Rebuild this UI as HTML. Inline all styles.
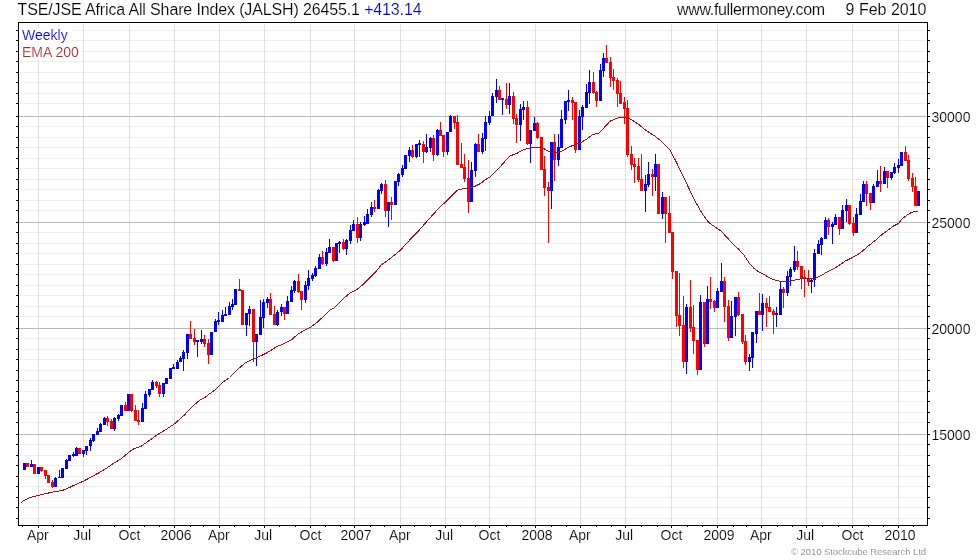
<!DOCTYPE html>
<html><head><meta charset="utf-8"><title>JALSH</title>
<style>
html,body{margin:0;padding:0;background:#fff;}
body{width:980px;height:560px;overflow:hidden;}
svg{display:block;will-change:transform;}
text{font-family:"Liberation Sans",sans-serif;stroke:#fff;stroke-width:0.16px;}
</style></head><body>
<svg width="980" height="560" viewBox="0 0 980 560">
<rect x="0" y="0" width="980" height="560" fill="#fff"/>
<g shape-rendering="crispEdges">
<rect x="20" y="30" width="906" height="1" fill="#efefef"/>
<rect x="20" y="40" width="906" height="1" fill="#efefef"/>
<rect x="20" y="51" width="906" height="1" fill="#efefef"/>
<rect x="20" y="61" width="906" height="1" fill="#efefef"/>
<rect x="20" y="72" width="906" height="1" fill="#efefef"/>
<rect x="20" y="82" width="906" height="1" fill="#efefef"/>
<rect x="20" y="93" width="906" height="1" fill="#efefef"/>
<rect x="20" y="103" width="906" height="1" fill="#efefef"/>
<rect x="20" y="126" width="906" height="1" fill="#efefef"/>
<rect x="20" y="137" width="906" height="1" fill="#efefef"/>
<rect x="20" y="147" width="906" height="1" fill="#efefef"/>
<rect x="20" y="158" width="906" height="1" fill="#efefef"/>
<rect x="20" y="168" width="906" height="1" fill="#efefef"/>
<rect x="20" y="179" width="906" height="1" fill="#efefef"/>
<rect x="20" y="189" width="906" height="1" fill="#efefef"/>
<rect x="20" y="200" width="906" height="1" fill="#efefef"/>
<rect x="20" y="210" width="906" height="1" fill="#efefef"/>
<rect x="20" y="232" width="906" height="1" fill="#efefef"/>
<rect x="20" y="243" width="906" height="1" fill="#efefef"/>
<rect x="20" y="253" width="906" height="1" fill="#efefef"/>
<rect x="20" y="264" width="906" height="1" fill="#efefef"/>
<rect x="20" y="274" width="906" height="1" fill="#efefef"/>
<rect x="20" y="285" width="906" height="1" fill="#efefef"/>
<rect x="20" y="295" width="906" height="1" fill="#efefef"/>
<rect x="20" y="306" width="906" height="1" fill="#efefef"/>
<rect x="20" y="316" width="906" height="1" fill="#efefef"/>
<rect x="20" y="338" width="906" height="1" fill="#efefef"/>
<rect x="20" y="349" width="906" height="1" fill="#efefef"/>
<rect x="20" y="359" width="906" height="1" fill="#efefef"/>
<rect x="20" y="370" width="906" height="1" fill="#efefef"/>
<rect x="20" y="380" width="906" height="1" fill="#efefef"/>
<rect x="20" y="391" width="906" height="1" fill="#efefef"/>
<rect x="20" y="401" width="906" height="1" fill="#efefef"/>
<rect x="20" y="412" width="906" height="1" fill="#efefef"/>
<rect x="20" y="422" width="906" height="1" fill="#efefef"/>
<rect x="20" y="444" width="906" height="1" fill="#efefef"/>
<rect x="20" y="455" width="906" height="1" fill="#efefef"/>
<rect x="20" y="465" width="906" height="1" fill="#efefef"/>
<rect x="20" y="476" width="906" height="1" fill="#efefef"/>
<rect x="20" y="486" width="906" height="1" fill="#efefef"/>
<rect x="20" y="497" width="906" height="1" fill="#efefef"/>
<rect x="20" y="507" width="906" height="1" fill="#efefef"/>
<rect x="20" y="518" width="906" height="1" fill="#efefef"/>
<rect x="38" y="24" width="1" height="500" fill="#dedede"/>
<rect x="83" y="24" width="1" height="500" fill="#dedede"/>
<rect x="129" y="24" width="1" height="500" fill="#dedede"/>
<rect x="174" y="24" width="1" height="500" fill="#dedede"/>
<rect x="219" y="24" width="1" height="500" fill="#dedede"/>
<rect x="264" y="24" width="1" height="500" fill="#dedede"/>
<rect x="310" y="24" width="1" height="500" fill="#dedede"/>
<rect x="354" y="24" width="1" height="500" fill="#dedede"/>
<rect x="400" y="24" width="1" height="500" fill="#dedede"/>
<rect x="445" y="24" width="1" height="500" fill="#dedede"/>
<rect x="489" y="24" width="1" height="500" fill="#dedede"/>
<rect x="535" y="24" width="1" height="500" fill="#dedede"/>
<rect x="580" y="24" width="1" height="500" fill="#dedede"/>
<rect x="625" y="24" width="1" height="500" fill="#dedede"/>
<rect x="671" y="24" width="1" height="500" fill="#dedede"/>
<rect x="717" y="24" width="1" height="500" fill="#dedede"/>
<rect x="761" y="24" width="1" height="500" fill="#dedede"/>
<rect x="806" y="24" width="1" height="500" fill="#dedede"/>
<rect x="852" y="24" width="1" height="500" fill="#dedede"/>
<rect x="898" y="24" width="1" height="500" fill="#dedede"/>
<rect x="19" y="116" width="908" height="1" fill="#b9b9b9"/>
<rect x="19" y="222" width="908" height="1" fill="#b9b9b9"/>
<rect x="19" y="328" width="908" height="1" fill="#b9b9b9"/>
<rect x="19" y="434" width="908" height="1" fill="#b9b9b9"/>
</g>
<rect x="20" y="28" width="51" height="16" fill="#fff"/>
<rect x="20" y="45" width="62" height="15" fill="#fff"/>
<g shape-rendering="crispEdges">
<rect x="23" y="463" width="3" height="7" fill="#0000ff"/>
<rect x="26" y="463" width="3" height="4" fill="#ff0000"/>
<rect x="31" y="460" width="1" height="7" fill="#0000ff"/><rect x="30" y="464" width="3" height="3" fill="#0000ff"/>
<rect x="33" y="464" width="3" height="10" fill="#ff0000"/>
<rect x="37" y="467" width="3" height="7" fill="#0000ff"/>
<rect x="41" y="467" width="1" height="5" fill="#ff0000"/><rect x="40" y="467" width="3" height="4" fill="#ff0000"/>
<rect x="45" y="470" width="1" height="9" fill="#ff0000"/><rect x="44" y="470" width="3" height="6" fill="#ff0000"/>
<rect x="47" y="475" width="3" height="8" fill="#ff0000"/>
<rect x="52" y="480" width="1" height="8" fill="#ff0000"/><rect x="51" y="482" width="3" height="5" fill="#ff0000"/>
<rect x="55" y="477" width="1" height="10" fill="#0000ff"/><rect x="54" y="478" width="3" height="9" fill="#0000ff"/>
<rect x="59" y="470" width="1" height="8" fill="#0000ff"/><rect x="58" y="477" width="3" height="1" fill="#0000ff"/>
<rect x="61" y="468" width="3" height="10" fill="#0000ff"/>
<rect x="66" y="459" width="1" height="10" fill="#0000ff"/><rect x="65" y="460" width="3" height="9" fill="#0000ff"/>
<rect x="68" y="455" width="3" height="6" fill="#0000ff"/>
<rect x="73" y="452" width="1" height="5" fill="#0000ff"/><rect x="72" y="454" width="3" height="2" fill="#0000ff"/>
<rect x="76" y="447" width="1" height="9" fill="#0000ff"/><rect x="75" y="448" width="3" height="8" fill="#0000ff"/>
<rect x="78" y="448" width="3" height="6" fill="#ff0000"/>
<rect x="83" y="450" width="1" height="7" fill="#0000ff"/><rect x="82" y="450" width="3" height="4" fill="#0000ff"/>
<rect x="86" y="446" width="1" height="9" fill="#0000ff"/><rect x="85" y="446" width="3" height="5" fill="#0000ff"/>
<rect x="90" y="438" width="1" height="13" fill="#0000ff"/><rect x="89" y="440" width="3" height="6" fill="#0000ff"/>
<rect x="93" y="434" width="1" height="8" fill="#0000ff"/><rect x="92" y="434" width="3" height="7" fill="#0000ff"/>
<rect x="97" y="428" width="1" height="7" fill="#0000ff"/><rect x="96" y="431" width="3" height="4" fill="#0000ff"/>
<rect x="100" y="423" width="1" height="9" fill="#0000ff"/><rect x="99" y="424" width="3" height="8" fill="#0000ff"/>
<rect x="104" y="417" width="1" height="8" fill="#0000ff"/><rect x="103" y="418" width="3" height="7" fill="#0000ff"/>
<rect x="107" y="416" width="1" height="10" fill="#ff0000"/><rect x="106" y="418" width="3" height="4" fill="#ff0000"/>
<rect x="111" y="419" width="1" height="10" fill="#ff0000"/><rect x="110" y="421" width="3" height="8" fill="#ff0000"/>
<rect x="114" y="417" width="1" height="14" fill="#0000ff"/><rect x="113" y="418" width="3" height="11" fill="#0000ff"/>
<rect x="118" y="414" width="1" height="7" fill="#0000ff"/><rect x="117" y="415" width="3" height="4" fill="#0000ff"/>
<rect x="120" y="405" width="3" height="11" fill="#0000ff"/>
<rect x="125" y="402" width="1" height="9" fill="#ff0000"/><rect x="124" y="405" width="3" height="6" fill="#ff0000"/>
<rect x="127" y="394" width="3" height="17" fill="#0000ff"/>
<rect x="131" y="394" width="1" height="18" fill="#ff0000"/><rect x="130" y="394" width="3" height="17" fill="#ff0000"/>
<rect x="135" y="405" width="1" height="16" fill="#ff0000"/><rect x="134" y="410" width="3" height="11" fill="#ff0000"/>
<rect x="138" y="410" width="1" height="15" fill="#ff0000"/><rect x="137" y="420" width="3" height="2" fill="#ff0000"/>
<rect x="142" y="403" width="1" height="19" fill="#0000ff"/><rect x="141" y="408" width="3" height="14" fill="#0000ff"/>
<rect x="145" y="391" width="1" height="18" fill="#0000ff"/><rect x="144" y="394" width="3" height="15" fill="#0000ff"/>
<rect x="149" y="389" width="1" height="8" fill="#0000ff"/><rect x="148" y="389" width="3" height="6" fill="#0000ff"/>
<rect x="152" y="380" width="1" height="10" fill="#0000ff"/><rect x="151" y="382" width="3" height="8" fill="#0000ff"/>
<rect x="156" y="381" width="1" height="7" fill="#ff0000"/><rect x="155" y="382" width="3" height="4" fill="#ff0000"/>
<rect x="159" y="382" width="1" height="15" fill="#ff0000"/><rect x="158" y="385" width="3" height="9" fill="#ff0000"/>
<rect x="163" y="383" width="1" height="14" fill="#0000ff"/><rect x="162" y="383" width="3" height="11" fill="#0000ff"/>
<rect x="165" y="378" width="3" height="6" fill="#0000ff"/>
<rect x="169" y="368" width="3" height="11" fill="#0000ff"/>
<rect x="173" y="364" width="1" height="5" fill="#0000ff"/><rect x="172" y="367" width="3" height="2" fill="#0000ff"/>
<rect x="177" y="360" width="1" height="9" fill="#0000ff"/><rect x="176" y="362" width="3" height="7" fill="#0000ff"/>
<rect x="180" y="356" width="1" height="6" fill="#0000ff"/><rect x="179" y="358" width="3" height="4" fill="#0000ff"/>
<rect x="183" y="350" width="1" height="21" fill="#0000ff"/><rect x="182" y="352" width="3" height="7" fill="#0000ff"/>
<rect x="187" y="334" width="1" height="25" fill="#0000ff"/><rect x="186" y="334" width="3" height="19" fill="#0000ff"/>
<rect x="190" y="321" width="1" height="18" fill="#ff0000"/><rect x="189" y="334" width="3" height="5" fill="#ff0000"/>
<rect x="194" y="329" width="1" height="16" fill="#ff0000"/><rect x="193" y="338" width="3" height="4" fill="#ff0000"/>
<rect x="197" y="340" width="1" height="17" fill="#0000ff"/><rect x="196" y="340" width="3" height="2" fill="#0000ff"/>
<rect x="201" y="330" width="1" height="14" fill="#0000ff"/><rect x="200" y="339" width="3" height="3" fill="#0000ff"/>
<rect x="204" y="335" width="1" height="12" fill="#ff0000"/><rect x="203" y="339" width="3" height="5" fill="#ff0000"/>
<rect x="208" y="339" width="1" height="25" fill="#ff0000"/><rect x="207" y="343" width="3" height="12" fill="#ff0000"/>
<rect x="210" y="332" width="3" height="23" fill="#0000ff"/>
<rect x="215" y="319" width="1" height="13" fill="#0000ff"/><rect x="214" y="321" width="3" height="11" fill="#0000ff"/>
<rect x="218" y="312" width="1" height="13" fill="#0000ff"/><rect x="217" y="320" width="3" height="2" fill="#0000ff"/>
<rect x="222" y="310" width="1" height="12" fill="#0000ff"/><rect x="221" y="315" width="3" height="7" fill="#0000ff"/>
<rect x="225" y="307" width="1" height="9" fill="#0000ff"/><rect x="224" y="314" width="3" height="2" fill="#0000ff"/>
<rect x="229" y="302" width="1" height="13" fill="#0000ff"/><rect x="228" y="306" width="3" height="9" fill="#0000ff"/>
<rect x="232" y="299" width="1" height="11" fill="#0000ff"/><rect x="231" y="304" width="3" height="3" fill="#0000ff"/>
<rect x="234" y="289" width="3" height="16" fill="#0000ff"/>
<rect x="239" y="279" width="1" height="12" fill="#ff0000"/><rect x="238" y="289" width="3" height="2" fill="#ff0000"/>
<rect x="241" y="290" width="3" height="35" fill="#ff0000"/>
<rect x="246" y="313" width="1" height="23" fill="#0000ff"/><rect x="245" y="313" width="3" height="12" fill="#0000ff"/>
<rect x="249" y="306" width="1" height="20" fill="#0000ff"/><rect x="248" y="309" width="3" height="5" fill="#0000ff"/>
<rect x="253" y="309" width="1" height="53" fill="#ff0000"/><rect x="252" y="309" width="3" height="33" fill="#ff0000"/>
<rect x="256" y="334" width="1" height="32" fill="#0000ff"/><rect x="255" y="334" width="3" height="8" fill="#0000ff"/>
<rect x="260" y="300" width="1" height="35" fill="#0000ff"/><rect x="259" y="317" width="3" height="18" fill="#0000ff"/>
<rect x="263" y="299" width="1" height="29" fill="#0000ff"/><rect x="262" y="302" width="3" height="16" fill="#0000ff"/>
<rect x="267" y="297" width="1" height="11" fill="#0000ff"/><rect x="266" y="299" width="3" height="4" fill="#0000ff"/>
<rect x="270" y="293" width="1" height="22" fill="#ff0000"/><rect x="269" y="299" width="3" height="16" fill="#ff0000"/>
<rect x="274" y="306" width="1" height="19" fill="#ff0000"/><rect x="273" y="314" width="3" height="11" fill="#ff0000"/>
<rect x="277" y="310" width="1" height="16" fill="#0000ff"/><rect x="276" y="312" width="3" height="13" fill="#0000ff"/>
<rect x="281" y="304" width="1" height="12" fill="#0000ff"/><rect x="280" y="307" width="3" height="5" fill="#0000ff"/>
<rect x="284" y="307" width="1" height="13" fill="#ff0000"/><rect x="283" y="307" width="3" height="7" fill="#ff0000"/>
<rect x="287" y="296" width="1" height="18" fill="#0000ff"/><rect x="286" y="301" width="3" height="13" fill="#0000ff"/>
<rect x="291" y="286" width="1" height="16" fill="#0000ff"/><rect x="290" y="290" width="3" height="12" fill="#0000ff"/>
<rect x="294" y="280" width="1" height="13" fill="#0000ff"/><rect x="293" y="281" width="3" height="10" fill="#0000ff"/>
<rect x="298" y="274" width="1" height="19" fill="#ff0000"/><rect x="297" y="281" width="3" height="11" fill="#ff0000"/>
<rect x="301" y="291" width="1" height="19" fill="#ff0000"/><rect x="300" y="291" width="3" height="9" fill="#ff0000"/>
<rect x="305" y="281" width="1" height="22" fill="#0000ff"/><rect x="304" y="285" width="3" height="15" fill="#0000ff"/>
<rect x="308" y="270" width="1" height="20" fill="#0000ff"/><rect x="307" y="278" width="3" height="8" fill="#0000ff"/>
<rect x="312" y="273" width="1" height="8" fill="#0000ff"/><rect x="311" y="275" width="3" height="4" fill="#0000ff"/>
<rect x="315" y="266" width="1" height="11" fill="#0000ff"/><rect x="314" y="268" width="3" height="8" fill="#0000ff"/>
<rect x="319" y="254" width="1" height="15" fill="#0000ff"/><rect x="318" y="257" width="3" height="12" fill="#0000ff"/>
<rect x="322" y="251" width="1" height="14" fill="#ff0000"/><rect x="321" y="257" width="3" height="7" fill="#ff0000"/>
<rect x="326" y="248" width="1" height="18" fill="#0000ff"/><rect x="325" y="252" width="3" height="12" fill="#0000ff"/>
<rect x="329" y="239" width="1" height="14" fill="#0000ff"/><rect x="328" y="247" width="3" height="6" fill="#0000ff"/>
<rect x="333" y="247" width="1" height="15" fill="#ff0000"/><rect x="332" y="247" width="3" height="14" fill="#ff0000"/>
<rect x="335" y="243" width="3" height="18" fill="#0000ff"/>
<rect x="339" y="241" width="1" height="12" fill="#0000ff"/><rect x="338" y="242" width="3" height="2" fill="#0000ff"/>
<rect x="343" y="239" width="1" height="11" fill="#ff0000"/><rect x="342" y="242" width="3" height="7" fill="#ff0000"/>
<rect x="346" y="239" width="1" height="16" fill="#0000ff"/><rect x="345" y="240" width="3" height="9" fill="#0000ff"/>
<rect x="350" y="225" width="1" height="19" fill="#0000ff"/><rect x="349" y="230" width="3" height="11" fill="#0000ff"/>
<rect x="353" y="220" width="1" height="11" fill="#0000ff"/><rect x="352" y="224" width="3" height="7" fill="#0000ff"/>
<rect x="357" y="217" width="1" height="26" fill="#ff0000"/><rect x="356" y="224" width="3" height="14" fill="#ff0000"/>
<rect x="360" y="222" width="1" height="19" fill="#0000ff"/><rect x="359" y="224" width="3" height="14" fill="#0000ff"/>
<rect x="364" y="216" width="1" height="10" fill="#0000ff"/><rect x="363" y="222" width="3" height="3" fill="#0000ff"/>
<rect x="367" y="209" width="1" height="15" fill="#0000ff"/><rect x="366" y="214" width="3" height="10" fill="#0000ff"/>
<rect x="371" y="202" width="1" height="15" fill="#0000ff"/><rect x="370" y="207" width="3" height="8" fill="#0000ff"/>
<rect x="374" y="200" width="1" height="12" fill="#ff0000"/><rect x="373" y="207" width="3" height="2" fill="#ff0000"/>
<rect x="378" y="189" width="1" height="20" fill="#0000ff"/><rect x="377" y="190" width="3" height="19" fill="#0000ff"/>
<rect x="381" y="183" width="1" height="11" fill="#0000ff"/><rect x="380" y="184" width="3" height="7" fill="#0000ff"/>
<rect x="385" y="180" width="1" height="37" fill="#ff0000"/><rect x="384" y="184" width="3" height="27" fill="#ff0000"/>
<rect x="388" y="202" width="1" height="25" fill="#0000ff"/><rect x="387" y="202" width="3" height="9" fill="#0000ff"/>
<rect x="391" y="197" width="1" height="23" fill="#ff0000"/><rect x="390" y="202" width="3" height="3" fill="#ff0000"/>
<rect x="394" y="181" width="3" height="24" fill="#0000ff"/>
<rect x="398" y="173" width="1" height="13" fill="#0000ff"/><rect x="397" y="174" width="3" height="8" fill="#0000ff"/>
<rect x="402" y="165" width="1" height="12" fill="#0000ff"/><rect x="401" y="168" width="3" height="7" fill="#0000ff"/>
<rect x="404" y="155" width="3" height="14" fill="#0000ff"/>
<rect x="409" y="147" width="1" height="15" fill="#0000ff"/><rect x="408" y="150" width="3" height="6" fill="#0000ff"/>
<rect x="412" y="145" width="1" height="13" fill="#ff0000"/><rect x="411" y="150" width="3" height="7" fill="#ff0000"/>
<rect x="416" y="144" width="1" height="14" fill="#0000ff"/><rect x="415" y="144" width="3" height="13" fill="#0000ff"/>
<rect x="419" y="140" width="1" height="17" fill="#0000ff"/><rect x="418" y="143" width="3" height="2" fill="#0000ff"/>
<rect x="423" y="141" width="1" height="22" fill="#ff0000"/><rect x="422" y="144" width="3" height="8" fill="#ff0000"/>
<rect x="426" y="134" width="1" height="19" fill="#0000ff"/><rect x="425" y="147" width="3" height="5" fill="#0000ff"/>
<rect x="430" y="137" width="1" height="15" fill="#0000ff"/><rect x="429" y="138" width="3" height="10" fill="#0000ff"/>
<rect x="433" y="135" width="1" height="26" fill="#ff0000"/><rect x="432" y="138" width="3" height="17" fill="#ff0000"/>
<rect x="437" y="129" width="1" height="27" fill="#0000ff"/><rect x="436" y="130" width="3" height="25" fill="#0000ff"/>
<rect x="440" y="122" width="1" height="14" fill="#ff0000"/><rect x="439" y="130" width="3" height="6" fill="#ff0000"/>
<rect x="443" y="135" width="1" height="22" fill="#ff0000"/><rect x="442" y="135" width="3" height="17" fill="#ff0000"/>
<rect x="447" y="132" width="1" height="23" fill="#0000ff"/><rect x="446" y="132" width="3" height="20" fill="#0000ff"/>
<rect x="450" y="115" width="1" height="17" fill="#0000ff"/><rect x="449" y="116" width="3" height="16" fill="#0000ff"/>
<rect x="454" y="116" width="1" height="13" fill="#ff0000"/><rect x="453" y="116" width="3" height="7" fill="#ff0000"/>
<rect x="457" y="115" width="1" height="50" fill="#ff0000"/><rect x="456" y="122" width="3" height="43" fill="#ff0000"/>
<rect x="461" y="143" width="1" height="25" fill="#ff0000"/><rect x="460" y="164" width="3" height="4" fill="#ff0000"/>
<rect x="464" y="154" width="1" height="28" fill="#ff0000"/><rect x="463" y="167" width="3" height="12" fill="#ff0000"/>
<rect x="468" y="160" width="1" height="53" fill="#ff0000"/><rect x="467" y="178" width="3" height="24" fill="#ff0000"/>
<rect x="471" y="162" width="1" height="40" fill="#0000ff"/><rect x="470" y="170" width="3" height="32" fill="#0000ff"/>
<rect x="475" y="143" width="1" height="34" fill="#0000ff"/><rect x="474" y="144" width="3" height="27" fill="#0000ff"/>
<rect x="478" y="134" width="1" height="18" fill="#ff0000"/><rect x="477" y="144" width="3" height="8" fill="#ff0000"/>
<rect x="482" y="133" width="1" height="21" fill="#0000ff"/><rect x="481" y="138" width="3" height="14" fill="#0000ff"/>
<rect x="485" y="116" width="1" height="35" fill="#0000ff"/><rect x="484" y="122" width="3" height="17" fill="#0000ff"/>
<rect x="489" y="111" width="1" height="14" fill="#0000ff"/><rect x="488" y="116" width="3" height="7" fill="#0000ff"/>
<rect x="492" y="93" width="1" height="23" fill="#0000ff"/><rect x="491" y="96" width="3" height="20" fill="#0000ff"/>
<rect x="496" y="79" width="1" height="24" fill="#0000ff"/><rect x="495" y="90" width="3" height="7" fill="#0000ff"/>
<rect x="499" y="86" width="1" height="14" fill="#ff0000"/><rect x="498" y="90" width="3" height="10" fill="#ff0000"/>
<rect x="502" y="98" width="1" height="17" fill="#0000ff"/><rect x="501" y="98" width="3" height="2" fill="#0000ff"/>
<rect x="506" y="83" width="1" height="26" fill="#ff0000"/><rect x="505" y="99" width="3" height="6" fill="#ff0000"/>
<rect x="509" y="83" width="1" height="31" fill="#0000ff"/><rect x="508" y="96" width="3" height="9" fill="#0000ff"/>
<rect x="513" y="92" width="1" height="32" fill="#ff0000"/><rect x="512" y="96" width="3" height="23" fill="#ff0000"/>
<rect x="516" y="114" width="1" height="29" fill="#ff0000"/><rect x="515" y="118" width="3" height="7" fill="#ff0000"/>
<rect x="520" y="104" width="1" height="37" fill="#0000ff"/><rect x="519" y="109" width="3" height="16" fill="#0000ff"/>
<rect x="523" y="101" width="1" height="19" fill="#0000ff"/><rect x="522" y="107" width="3" height="3" fill="#0000ff"/>
<rect x="527" y="101" width="1" height="44" fill="#ff0000"/><rect x="526" y="107" width="3" height="37" fill="#ff0000"/>
<rect x="530" y="130" width="1" height="33" fill="#0000ff"/><rect x="529" y="130" width="3" height="14" fill="#0000ff"/>
<rect x="534" y="117" width="1" height="14" fill="#0000ff"/><rect x="533" y="123" width="3" height="8" fill="#0000ff"/>
<rect x="537" y="122" width="1" height="17" fill="#ff0000"/><rect x="536" y="123" width="3" height="15" fill="#ff0000"/>
<rect x="540" y="137" width="3" height="33" fill="#ff0000"/>
<rect x="544" y="156" width="1" height="40" fill="#ff0000"/><rect x="543" y="169" width="3" height="19" fill="#ff0000"/>
<rect x="548" y="182" width="1" height="61" fill="#ff0000"/><rect x="547" y="187" width="3" height="4" fill="#ff0000"/>
<rect x="551" y="142" width="1" height="67" fill="#0000ff"/><rect x="550" y="142" width="3" height="49" fill="#0000ff"/>
<rect x="554" y="134" width="1" height="47" fill="#ff0000"/><rect x="553" y="142" width="3" height="18" fill="#ff0000"/>
<rect x="558" y="134" width="1" height="32" fill="#0000ff"/><rect x="557" y="147" width="3" height="13" fill="#0000ff"/>
<rect x="561" y="110" width="1" height="38" fill="#0000ff"/><rect x="560" y="119" width="3" height="29" fill="#0000ff"/>
<rect x="565" y="101" width="1" height="23" fill="#0000ff"/><rect x="564" y="101" width="3" height="19" fill="#0000ff"/>
<rect x="568" y="90" width="1" height="21" fill="#0000ff"/><rect x="567" y="100" width="3" height="2" fill="#0000ff"/>
<rect x="572" y="97" width="1" height="23" fill="#ff0000"/><rect x="571" y="100" width="3" height="3" fill="#ff0000"/>
<rect x="575" y="102" width="1" height="51" fill="#ff0000"/><rect x="574" y="102" width="3" height="48" fill="#ff0000"/>
<rect x="579" y="110" width="1" height="40" fill="#0000ff"/><rect x="578" y="116" width="3" height="34" fill="#0000ff"/>
<rect x="582" y="105" width="1" height="25" fill="#0000ff"/><rect x="581" y="107" width="3" height="10" fill="#0000ff"/>
<rect x="586" y="84" width="1" height="24" fill="#0000ff"/><rect x="585" y="92" width="3" height="16" fill="#0000ff"/>
<rect x="589" y="70" width="1" height="34" fill="#0000ff"/><rect x="588" y="82" width="3" height="11" fill="#0000ff"/>
<rect x="593" y="72" width="1" height="22" fill="#ff0000"/><rect x="592" y="82" width="3" height="11" fill="#ff0000"/>
<rect x="596" y="91" width="1" height="16" fill="#ff0000"/><rect x="595" y="92" width="3" height="9" fill="#ff0000"/>
<rect x="600" y="64" width="1" height="37" fill="#0000ff"/><rect x="599" y="70" width="3" height="31" fill="#0000ff"/>
<rect x="603" y="53" width="1" height="24" fill="#0000ff"/><rect x="602" y="58" width="3" height="13" fill="#0000ff"/>
<rect x="606" y="45" width="1" height="18" fill="#ff0000"/><rect x="605" y="58" width="3" height="5" fill="#ff0000"/>
<rect x="610" y="57" width="1" height="30" fill="#ff0000"/><rect x="609" y="62" width="3" height="16" fill="#ff0000"/>
<rect x="613" y="69" width="1" height="21" fill="#ff0000"/><rect x="612" y="77" width="3" height="4" fill="#ff0000"/>
<rect x="617" y="78" width="1" height="29" fill="#ff0000"/><rect x="616" y="80" width="3" height="14" fill="#ff0000"/>
<rect x="620" y="81" width="1" height="23" fill="#ff0000"/><rect x="619" y="93" width="3" height="11" fill="#ff0000"/>
<rect x="624" y="97" width="1" height="27" fill="#ff0000"/><rect x="623" y="102" width="3" height="7" fill="#ff0000"/>
<rect x="627" y="100" width="1" height="57" fill="#ff0000"/><rect x="626" y="108" width="3" height="47" fill="#ff0000"/>
<rect x="631" y="146" width="1" height="24" fill="#ff0000"/><rect x="630" y="154" width="3" height="11" fill="#ff0000"/>
<rect x="634" y="158" width="1" height="25" fill="#ff0000"/><rect x="633" y="164" width="3" height="3" fill="#ff0000"/>
<rect x="638" y="158" width="1" height="24" fill="#ff0000"/><rect x="637" y="166" width="3" height="14" fill="#ff0000"/>
<rect x="641" y="154" width="1" height="37" fill="#ff0000"/><rect x="640" y="179" width="3" height="12" fill="#ff0000"/>
<rect x="645" y="175" width="1" height="37" fill="#0000ff"/><rect x="644" y="184" width="3" height="7" fill="#0000ff"/>
<rect x="648" y="162" width="1" height="25" fill="#0000ff"/><rect x="647" y="174" width="3" height="11" fill="#0000ff"/>
<rect x="652" y="169" width="1" height="27" fill="#ff0000"/><rect x="651" y="174" width="3" height="3" fill="#ff0000"/>
<rect x="655" y="154" width="1" height="37" fill="#0000ff"/><rect x="654" y="164" width="3" height="13" fill="#0000ff"/>
<rect x="657" y="164" width="3" height="50" fill="#ff0000"/>
<rect x="662" y="192" width="1" height="27" fill="#0000ff"/><rect x="661" y="197" width="3" height="17" fill="#0000ff"/>
<rect x="665" y="197" width="1" height="46" fill="#ff0000"/><rect x="664" y="197" width="3" height="17" fill="#ff0000"/>
<rect x="669" y="196" width="1" height="37" fill="#ff0000"/><rect x="668" y="213" width="3" height="20" fill="#ff0000"/>
<rect x="672" y="232" width="1" height="47" fill="#ff0000"/><rect x="671" y="232" width="3" height="40" fill="#ff0000"/>
<rect x="676" y="271" width="1" height="56" fill="#ff0000"/><rect x="675" y="271" width="3" height="45" fill="#ff0000"/>
<rect x="679" y="273" width="1" height="63" fill="#ff0000"/><rect x="678" y="315" width="3" height="11" fill="#ff0000"/>
<rect x="683" y="296" width="1" height="72" fill="#ff0000"/><rect x="682" y="325" width="3" height="37" fill="#ff0000"/>
<rect x="686" y="304" width="1" height="70" fill="#0000ff"/><rect x="685" y="307" width="3" height="55" fill="#0000ff"/>
<rect x="690" y="280" width="1" height="52" fill="#ff0000"/><rect x="689" y="307" width="3" height="21" fill="#ff0000"/>
<rect x="693" y="305" width="1" height="49" fill="#ff0000"/><rect x="692" y="327" width="3" height="14" fill="#ff0000"/>
<rect x="697" y="340" width="1" height="35" fill="#ff0000"/><rect x="696" y="340" width="3" height="30" fill="#ff0000"/>
<rect x="700" y="295" width="1" height="75" fill="#0000ff"/><rect x="699" y="302" width="3" height="68" fill="#0000ff"/>
<rect x="704" y="302" width="1" height="45" fill="#ff0000"/><rect x="703" y="302" width="3" height="42" fill="#ff0000"/>
<rect x="707" y="286" width="1" height="58" fill="#0000ff"/><rect x="706" y="299" width="3" height="45" fill="#0000ff"/>
<rect x="710" y="277" width="1" height="32" fill="#ff0000"/><rect x="709" y="299" width="3" height="3" fill="#ff0000"/>
<rect x="714" y="300" width="1" height="12" fill="#ff0000"/><rect x="713" y="301" width="3" height="7" fill="#ff0000"/>
<rect x="717" y="288" width="1" height="20" fill="#0000ff"/><rect x="716" y="291" width="3" height="17" fill="#0000ff"/>
<rect x="721" y="263" width="1" height="29" fill="#0000ff"/><rect x="720" y="281" width="3" height="11" fill="#0000ff"/>
<rect x="724" y="277" width="1" height="45" fill="#ff0000"/><rect x="723" y="281" width="3" height="26" fill="#ff0000"/>
<rect x="728" y="300" width="1" height="41" fill="#ff0000"/><rect x="727" y="306" width="3" height="32" fill="#ff0000"/>
<rect x="731" y="301" width="1" height="37" fill="#0000ff"/><rect x="730" y="316" width="3" height="22" fill="#0000ff"/>
<rect x="735" y="297" width="1" height="39" fill="#0000ff"/><rect x="734" y="297" width="3" height="20" fill="#0000ff"/>
<rect x="738" y="292" width="1" height="24" fill="#ff0000"/><rect x="737" y="297" width="3" height="18" fill="#ff0000"/>
<rect x="742" y="314" width="1" height="30" fill="#ff0000"/><rect x="741" y="314" width="3" height="28" fill="#ff0000"/>
<rect x="745" y="335" width="1" height="30" fill="#ff0000"/><rect x="744" y="341" width="3" height="21" fill="#ff0000"/>
<rect x="749" y="354" width="1" height="17" fill="#0000ff"/><rect x="748" y="357" width="3" height="5" fill="#0000ff"/>
<rect x="752" y="332" width="1" height="36" fill="#0000ff"/><rect x="751" y="332" width="3" height="26" fill="#0000ff"/>
<rect x="756" y="311" width="1" height="32" fill="#0000ff"/><rect x="755" y="311" width="3" height="23" fill="#0000ff"/>
<rect x="759" y="293" width="1" height="22" fill="#ff0000"/><rect x="758" y="311" width="3" height="4" fill="#ff0000"/>
<rect x="762" y="294" width="1" height="37" fill="#0000ff"/><rect x="761" y="303" width="3" height="12" fill="#0000ff"/>
<rect x="766" y="298" width="1" height="29" fill="#ff0000"/><rect x="765" y="303" width="3" height="5" fill="#ff0000"/>
<rect x="769" y="296" width="1" height="16" fill="#ff0000"/><rect x="768" y="307" width="3" height="5" fill="#ff0000"/>
<rect x="773" y="309" width="1" height="25" fill="#ff0000"/><rect x="772" y="311" width="3" height="4" fill="#ff0000"/>
<rect x="776" y="307" width="1" height="20" fill="#0000ff"/><rect x="775" y="313" width="3" height="2" fill="#0000ff"/>
<rect x="780" y="282" width="1" height="33" fill="#0000ff"/><rect x="779" y="289" width="3" height="26" fill="#0000ff"/>
<rect x="783" y="287" width="1" height="21" fill="#ff0000"/><rect x="782" y="289" width="3" height="4" fill="#ff0000"/>
<rect x="787" y="271" width="1" height="25" fill="#0000ff"/><rect x="786" y="276" width="3" height="17" fill="#0000ff"/>
<rect x="790" y="267" width="1" height="19" fill="#0000ff"/><rect x="789" y="269" width="3" height="8" fill="#0000ff"/>
<rect x="794" y="246" width="1" height="26" fill="#0000ff"/><rect x="793" y="261" width="3" height="9" fill="#0000ff"/>
<rect x="797" y="251" width="1" height="19" fill="#ff0000"/><rect x="796" y="261" width="3" height="6" fill="#ff0000"/>
<rect x="801" y="266" width="1" height="23" fill="#ff0000"/><rect x="800" y="266" width="3" height="12" fill="#ff0000"/>
<rect x="804" y="270" width="1" height="27" fill="#ff0000"/><rect x="803" y="277" width="3" height="2" fill="#ff0000"/>
<rect x="808" y="270" width="1" height="16" fill="#ff0000"/><rect x="807" y="279" width="3" height="3" fill="#ff0000"/>
<rect x="811" y="279" width="1" height="14" fill="#0000ff"/><rect x="810" y="280" width="3" height="2" fill="#0000ff"/>
<rect x="814" y="249" width="1" height="38" fill="#0000ff"/><rect x="813" y="253" width="3" height="27" fill="#0000ff"/>
<rect x="818" y="240" width="1" height="14" fill="#0000ff"/><rect x="817" y="244" width="3" height="10" fill="#0000ff"/>
<rect x="821" y="237" width="1" height="18" fill="#0000ff"/><rect x="820" y="238" width="3" height="7" fill="#0000ff"/>
<rect x="825" y="217" width="1" height="22" fill="#0000ff"/><rect x="824" y="220" width="3" height="19" fill="#0000ff"/>
<rect x="828" y="218" width="1" height="17" fill="#ff0000"/><rect x="827" y="220" width="3" height="7" fill="#ff0000"/>
<rect x="832" y="222" width="1" height="22" fill="#0000ff"/><rect x="831" y="224" width="3" height="3" fill="#0000ff"/>
<rect x="835" y="214" width="1" height="11" fill="#0000ff"/><rect x="834" y="217" width="3" height="8" fill="#0000ff"/>
<rect x="839" y="217" width="1" height="18" fill="#ff0000"/><rect x="838" y="217" width="3" height="12" fill="#ff0000"/>
<rect x="842" y="205" width="1" height="24" fill="#0000ff"/><rect x="841" y="210" width="3" height="19" fill="#0000ff"/>
<rect x="846" y="199" width="1" height="23" fill="#0000ff"/><rect x="845" y="205" width="3" height="6" fill="#0000ff"/>
<rect x="849" y="205" width="1" height="20" fill="#ff0000"/><rect x="848" y="205" width="3" height="19" fill="#ff0000"/>
<rect x="853" y="217" width="1" height="19" fill="#ff0000"/><rect x="852" y="223" width="3" height="10" fill="#ff0000"/>
<rect x="856" y="208" width="1" height="25" fill="#0000ff"/><rect x="855" y="214" width="3" height="19" fill="#0000ff"/>
<rect x="860" y="194" width="1" height="21" fill="#0000ff"/><rect x="859" y="201" width="3" height="14" fill="#0000ff"/>
<rect x="863" y="181" width="1" height="21" fill="#0000ff"/><rect x="862" y="184" width="3" height="18" fill="#0000ff"/>
<rect x="866" y="181" width="1" height="25" fill="#ff0000"/><rect x="865" y="184" width="3" height="10" fill="#ff0000"/>
<rect x="870" y="193" width="1" height="17" fill="#ff0000"/><rect x="869" y="193" width="3" height="10" fill="#ff0000"/>
<rect x="873" y="184" width="1" height="19" fill="#0000ff"/><rect x="872" y="186" width="3" height="17" fill="#0000ff"/>
<rect x="877" y="170" width="1" height="17" fill="#0000ff"/><rect x="876" y="181" width="3" height="6" fill="#0000ff"/>
<rect x="880" y="166" width="1" height="26" fill="#ff0000"/><rect x="879" y="181" width="3" height="3" fill="#ff0000"/>
<rect x="884" y="167" width="1" height="17" fill="#0000ff"/><rect x="883" y="171" width="3" height="13" fill="#0000ff"/>
<rect x="887" y="171" width="1" height="17" fill="#ff0000"/><rect x="886" y="171" width="3" height="7" fill="#ff0000"/>
<rect x="891" y="172" width="1" height="8" fill="#0000ff"/><rect x="890" y="172" width="3" height="6" fill="#0000ff"/>
<rect x="894" y="163" width="1" height="11" fill="#0000ff"/><rect x="893" y="167" width="3" height="6" fill="#0000ff"/>
<rect x="898" y="159" width="1" height="14" fill="#0000ff"/><rect x="897" y="165" width="3" height="3" fill="#0000ff"/>
<rect x="900" y="152" width="3" height="14" fill="#0000ff"/>
<rect x="905" y="146" width="1" height="15" fill="#ff0000"/><rect x="904" y="152" width="3" height="9" fill="#ff0000"/>
<rect x="908" y="155" width="1" height="26" fill="#ff0000"/><rect x="907" y="160" width="3" height="19" fill="#ff0000"/>
<rect x="912" y="173" width="1" height="19" fill="#ff0000"/><rect x="911" y="178" width="3" height="9" fill="#ff0000"/>
<rect x="915" y="177" width="1" height="29" fill="#ff0000"/><rect x="914" y="186" width="3" height="20" fill="#ff0000"/>
<rect x="917" y="191" width="3" height="15" fill="#0000ff"/>
</g>
<polyline points="21.2,502.5 25.0,499.8 30.0,497.5 38.1,495.6 46.2,493.5 53.8,491.9 62.5,490.4 70.0,487.2 77.5,483.8 83.8,481.0 91.2,476.9 98.8,472.8 106.2,468.5 113.8,463.1 121.2,458.8 126.2,454.4 132.5,449.4 141.2,446.2 150.0,440.0 158.8,433.8 166.2,429.4 174.5,423.8 185.0,414.4 191.2,407.5 200.0,400.0 207.0,396.2 208.8,394.4 215.0,390.0 222.5,382.5 229.5,377.5 237.5,369.4 245.0,363.1 252.5,359.4 260.0,356.2 267.5,352.5 276.2,346.9 283.8,343.8 292.0,339.4 298.1,334.0 305.0,330.0 311.2,326.9 317.5,321.9 323.8,316.2 330.0,310.0 333.8,308.1 340.0,301.9 347.5,295.0 351.2,292.2 356.2,290.0 362.5,285.0 370.0,277.5 376.2,271.2 381.2,265.0 387.5,260.6 393.8,255.6 400.0,250.6 406.2,243.8 412.5,236.9 418.8,230.6 422.0,226.9 433.1,214.4 440.0,206.9 445.6,201.9 452.5,195.0 457.5,190.2 463.8,188.5 470.0,187.9 473.8,186.9 480.0,183.8 485.0,180.0 490.0,176.9 495.0,171.9 500.0,166.9 505.0,161.2 510.0,156.0 517.5,153.1 523.8,149.4 530.0,148.1 536.2,147.2 542.5,147.8 548.8,151.5 555.0,153.1 561.2,151.5 567.5,147.8 573.8,145.0 580.0,143.1 586.2,139.4 592.5,134.8 598.8,133.1 605.0,126.7 610.0,121.2 616.2,118.5 622.5,117.1 628.8,118.1 633.8,121.2 638.8,124.4 643.8,128.8 650.0,133.1 655.0,136.2 661.2,141.2 666.2,146.2 670.0,150.0 676.2,161.9 682.5,175.0 688.8,188.1 695.0,201.2 702.5,214.0 708.8,222.5 715.0,226.9 721.2,231.2 727.5,238.1 733.8,245.0 738.8,249.4 743.8,255.0 748.8,262.5 753.8,268.1 758.8,271.9 763.8,274.4 770.0,278.1 776.2,280.6 782.5,281.5 788.8,281.5 795.0,280.0 801.2,278.8 807.5,279.0 813.8,278.8 820.0,276.2 826.2,272.5 832.5,269.4 838.8,265.6 845.0,261.2 852.5,257.5 860.0,253.1 869.5,245.0 875.8,240.0 882.0,234.4 888.2,230.0 893.2,226.2 898.4,223.5 902.0,218.8 907.0,215.0 912.0,212.2 915.8,211.2 918.0,211.2" fill="none" stroke="#9e1212" stroke-width="1" shape-rendering="crispEdges"/>
<g shape-rendering="crispEdges" fill="#000">
<rect x="18" y="22" width="910" height="1"/><rect x="18" y="525" width="910" height="1"/><rect x="18" y="22" width="1" height="504"/><rect x="927" y="22" width="1" height="504"/>
<rect x="16" y="30" width="2" height="1"/><rect x="928" y="30" width="2" height="1"/><rect x="16" y="40" width="2" height="1"/><rect x="928" y="40" width="2" height="1"/><rect x="16" y="51" width="2" height="1"/><rect x="928" y="51" width="2" height="1"/><rect x="16" y="61" width="2" height="1"/><rect x="928" y="61" width="2" height="1"/><rect x="16" y="72" width="2" height="1"/><rect x="928" y="72" width="2" height="1"/><rect x="16" y="82" width="2" height="1"/><rect x="928" y="82" width="2" height="1"/><rect x="16" y="93" width="2" height="1"/><rect x="928" y="93" width="2" height="1"/><rect x="16" y="103" width="2" height="1"/><rect x="928" y="103" width="2" height="1"/><rect x="16" y="126" width="2" height="1"/><rect x="928" y="126" width="2" height="1"/><rect x="16" y="137" width="2" height="1"/><rect x="928" y="137" width="2" height="1"/><rect x="16" y="147" width="2" height="1"/><rect x="928" y="147" width="2" height="1"/><rect x="16" y="158" width="2" height="1"/><rect x="928" y="158" width="2" height="1"/><rect x="16" y="168" width="2" height="1"/><rect x="928" y="168" width="2" height="1"/><rect x="16" y="179" width="2" height="1"/><rect x="928" y="179" width="2" height="1"/><rect x="16" y="189" width="2" height="1"/><rect x="928" y="189" width="2" height="1"/><rect x="16" y="200" width="2" height="1"/><rect x="928" y="200" width="2" height="1"/><rect x="16" y="210" width="2" height="1"/><rect x="928" y="210" width="2" height="1"/><rect x="16" y="232" width="2" height="1"/><rect x="928" y="232" width="2" height="1"/><rect x="16" y="243" width="2" height="1"/><rect x="928" y="243" width="2" height="1"/><rect x="16" y="253" width="2" height="1"/><rect x="928" y="253" width="2" height="1"/><rect x="16" y="264" width="2" height="1"/><rect x="928" y="264" width="2" height="1"/><rect x="16" y="274" width="2" height="1"/><rect x="928" y="274" width="2" height="1"/><rect x="16" y="285" width="2" height="1"/><rect x="928" y="285" width="2" height="1"/><rect x="16" y="295" width="2" height="1"/><rect x="928" y="295" width="2" height="1"/><rect x="16" y="306" width="2" height="1"/><rect x="928" y="306" width="2" height="1"/><rect x="16" y="316" width="2" height="1"/><rect x="928" y="316" width="2" height="1"/><rect x="16" y="338" width="2" height="1"/><rect x="928" y="338" width="2" height="1"/><rect x="16" y="349" width="2" height="1"/><rect x="928" y="349" width="2" height="1"/><rect x="16" y="359" width="2" height="1"/><rect x="928" y="359" width="2" height="1"/><rect x="16" y="370" width="2" height="1"/><rect x="928" y="370" width="2" height="1"/><rect x="16" y="380" width="2" height="1"/><rect x="928" y="380" width="2" height="1"/><rect x="16" y="391" width="2" height="1"/><rect x="928" y="391" width="2" height="1"/><rect x="16" y="401" width="2" height="1"/><rect x="928" y="401" width="2" height="1"/><rect x="16" y="412" width="2" height="1"/><rect x="928" y="412" width="2" height="1"/><rect x="16" y="422" width="2" height="1"/><rect x="928" y="422" width="2" height="1"/><rect x="16" y="444" width="2" height="1"/><rect x="928" y="444" width="2" height="1"/><rect x="16" y="455" width="2" height="1"/><rect x="928" y="455" width="2" height="1"/><rect x="16" y="465" width="2" height="1"/><rect x="928" y="465" width="2" height="1"/><rect x="16" y="476" width="2" height="1"/><rect x="928" y="476" width="2" height="1"/><rect x="16" y="486" width="2" height="1"/><rect x="928" y="486" width="2" height="1"/><rect x="16" y="497" width="2" height="1"/><rect x="928" y="497" width="2" height="1"/><rect x="16" y="507" width="2" height="1"/><rect x="928" y="507" width="2" height="1"/><rect x="16" y="518" width="2" height="1"/><rect x="928" y="518" width="2" height="1"/><rect x="16" y="116" width="2" height="1"/><rect x="928" y="116" width="2" height="1"/><rect x="16" y="222" width="2" height="1"/><rect x="928" y="222" width="2" height="1"/><rect x="16" y="328" width="2" height="1"/><rect x="928" y="328" width="2" height="1"/><rect x="16" y="434" width="2" height="1"/><rect x="928" y="434" width="2" height="1"/>
<rect x="38" y="526" width="1" height="2"/><rect x="83" y="526" width="1" height="2"/><rect x="129" y="526" width="1" height="2"/><rect x="174" y="526" width="1" height="2"/><rect x="219" y="526" width="1" height="2"/><rect x="264" y="526" width="1" height="2"/><rect x="310" y="526" width="1" height="2"/><rect x="354" y="526" width="1" height="2"/><rect x="400" y="526" width="1" height="2"/><rect x="445" y="526" width="1" height="2"/><rect x="489" y="526" width="1" height="2"/><rect x="535" y="526" width="1" height="2"/><rect x="580" y="526" width="1" height="2"/><rect x="625" y="526" width="1" height="2"/><rect x="671" y="526" width="1" height="2"/><rect x="717" y="526" width="1" height="2"/><rect x="761" y="526" width="1" height="2"/><rect x="806" y="526" width="1" height="2"/><rect x="852" y="526" width="1" height="2"/><rect x="898" y="526" width="1" height="2"/><rect x="22" y="526" width="1" height="1"/><rect x="53" y="526" width="1" height="1"/><rect x="68" y="526" width="1" height="1"/><rect x="98" y="526" width="1" height="1"/><rect x="114" y="526" width="1" height="1"/><rect x="144" y="526" width="1" height="1"/><rect x="159" y="526" width="1" height="1"/><rect x="190" y="526" width="1" height="1"/><rect x="203" y="526" width="1" height="1"/><rect x="234" y="526" width="1" height="1"/><rect x="249" y="526" width="1" height="1"/><rect x="279" y="526" width="1" height="1"/><rect x="295" y="526" width="1" height="1"/><rect x="325" y="526" width="1" height="1"/><rect x="340" y="526" width="1" height="1"/><rect x="370" y="526" width="1" height="1"/><rect x="384" y="526" width="1" height="1"/><rect x="414" y="526" width="1" height="1"/><rect x="430" y="526" width="1" height="1"/><rect x="460" y="526" width="1" height="1"/><rect x="475" y="526" width="1" height="1"/><rect x="506" y="526" width="1" height="1"/><rect x="521" y="526" width="1" height="1"/><rect x="551" y="526" width="1" height="1"/><rect x="566" y="526" width="1" height="1"/><rect x="596" y="526" width="1" height="1"/><rect x="611" y="526" width="1" height="1"/><rect x="641" y="526" width="1" height="1"/><rect x="657" y="526" width="1" height="1"/><rect x="687" y="526" width="1" height="1"/><rect x="702" y="526" width="1" height="1"/><rect x="733" y="526" width="1" height="1"/><rect x="746" y="526" width="1" height="1"/><rect x="777" y="526" width="1" height="1"/><rect x="792" y="526" width="1" height="1"/><rect x="822" y="526" width="1" height="1"/><rect x="838" y="526" width="1" height="1"/><rect x="868" y="526" width="1" height="1"/><rect x="883" y="526" width="1" height="1"/><rect x="913" y="526" width="1" height="1"/>
</g>
<g font-size="16px" fill="#000">
<text x="17.6" y="14.9" textLength="404" lengthAdjust="spacing">TSE/JSE Africa All Share Index (JALSH) 26455.1 <tspan fill="#0000cc">+413.14</tspan></text>
<text x="677.1" y="14.8" textLength="148" lengthAdjust="spacing">www.fullermoney.com</text>
<text x="926.5" y="14.8" text-anchor="end">9 Feb 2010</text>
</g>
<g font-size="14px">
<text x="22" y="40" fill="#0000ff">Weekly</text>
<text x="22" y="57" fill="#a52a2a">EMA 200</text>
<text x="931.5" y="121.9" fill="#000">30000</text>
<text x="931.5" y="227.9" fill="#000">25000</text>
<text x="931.5" y="333.9" fill="#000">20000</text>
<text x="931.5" y="439.9" fill="#000">15000</text>
<text x="37.9" y="539.5" text-anchor="middle" fill="#000">Apr</text>
<text x="82.1" y="539.5" text-anchor="middle" fill="#000">Jul</text>
<text x="129.5" y="539.5" text-anchor="middle" fill="#000">Oct</text>
<text x="176.0" y="539.5" text-anchor="middle" fill="#000">2006</text>
<text x="218.9" y="539.5" text-anchor="middle" fill="#000">Apr</text>
<text x="263.1" y="539.5" text-anchor="middle" fill="#000">Jul</text>
<text x="310.5" y="539.5" text-anchor="middle" fill="#000">Oct</text>
<text x="356.0" y="539.5" text-anchor="middle" fill="#000">2007</text>
<text x="399.9" y="539.5" text-anchor="middle" fill="#000">Apr</text>
<text x="444.1" y="539.5" text-anchor="middle" fill="#000">Jul</text>
<text x="489.5" y="539.5" text-anchor="middle" fill="#000">Oct</text>
<text x="537.0" y="539.5" text-anchor="middle" fill="#000">2008</text>
<text x="579.9" y="539.5" text-anchor="middle" fill="#000">Apr</text>
<text x="624.1" y="539.5" text-anchor="middle" fill="#000">Jul</text>
<text x="671.5" y="539.5" text-anchor="middle" fill="#000">Oct</text>
<text x="719.0" y="539.5" text-anchor="middle" fill="#000">2009</text>
<text x="760.9" y="539.5" text-anchor="middle" fill="#000">Apr</text>
<text x="805.1" y="539.5" text-anchor="middle" fill="#000">Jul</text>
<text x="852.5" y="539.5" text-anchor="middle" fill="#000">Oct</text>
<text x="900.0" y="539.5" text-anchor="middle" fill="#000">2010</text>
</g>
<text x="926" y="554.8" text-anchor="end" font-size="9.5px" fill="#737373" textLength="135" lengthAdjust="spacing">© 2010 Stockcube Research Ltd</text>
</svg>
</body></html>
